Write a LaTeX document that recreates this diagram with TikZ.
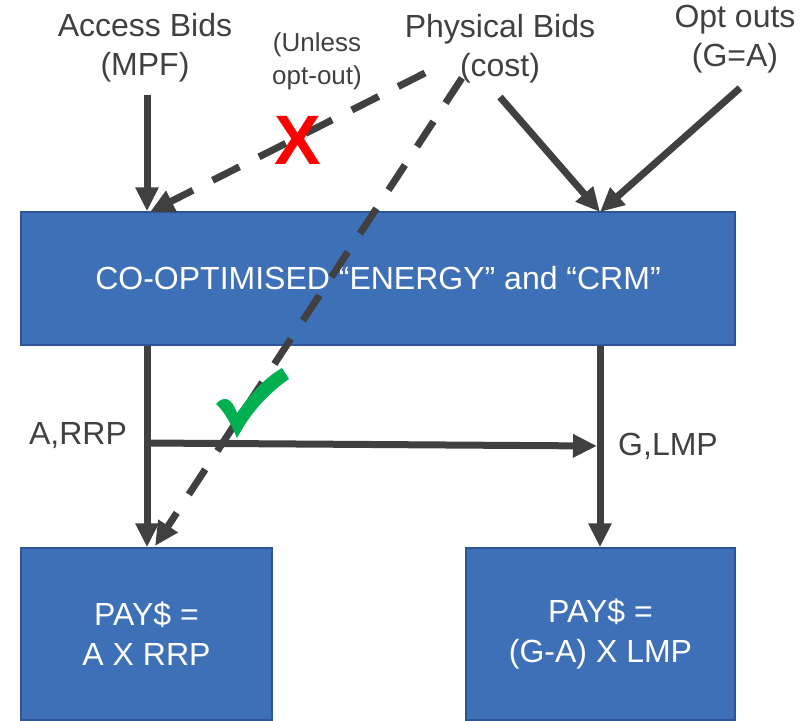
\documentclass[tikz,border=0pt]{standalone}
\usepackage{fontspec}
\setmainfont{Liberation Sans}
\usetikzlibrary{arrows.meta,calc}
\definecolor{boxblue}{RGB}{61,112,182}
\definecolor{boxedge}{RGB}{47,85,151}
\definecolor{inkgrey}{RGB}{64,64,64}
\definecolor{crossred}{RGB}{255,0,0}
\definecolor{tickgreen}{RGB}{0,176,80}

\begin{document}
\begin{tikzpicture}[x=1pt, y=-1pt,
    bidtext/.style={text=inkgrey, align=center, inner sep=0pt, font=\fontsize{32}{39}\selectfont},
    paybox/.style={draw=boxedge, line width=1.5pt, fill=boxblue, text=white, align=center,
        inner sep=0pt, font=\fontsize{32}{40}\selectfont},
    flow/.style={draw=inkgrey, line width=7pt, -{Triangle[length=24pt,width=22pt]}},
    maybeflow/.style={flow, dash pattern=on 30pt off 22pt}
]

    \useasboundingbox (0,0) rectangle (808,720);

    % 1. 三个蓝色方框
    \node (coopt) at (378,278.5) [paybox, minimum width=714pt, minimum height=133pt]
        {CO-OPTIMISED “ENERGY” and “CRM”};
    \node (lbox) at (146.5,634) [paybox, minimum width=251pt, minimum height=172pt]
        {PAY\$ =\\A X RRP};
    \node (rbox) at (600.5,634) [paybox, minimum width=269pt, minimum height=172pt]
        {PAY\$ =\\(G-A) X LMP};

    % 2. 顶部的文字
    \node (access) at (145,48) [bidtext] {Access Bids\\(MPF)};
    \node (unless) at (317,61) [bidtext, font=\fontsize{26}{33}\selectfont] {(Unless\\opt-out)};
    \node (physical) at (500,49) [bidtext] {Physical Bids\\(cost)};
    \node (optouts) at (735,39) [bidtext] {Opt outs\\(G=A)};

    % 端点
    \coordinate (accTail) at (147,95);
    \coordinate (physTail) at (500,97);
    \coordinate (optTail) at (740,88);
    \coordinate (dashTailA) at (425,73);
    \coordinate (dashTailB) at (462,78);
    \coordinate (split) at (147,443);
    \coordinate (join) at (597,446);

    % 3. 输入箭头
    \draw[flow] (accTail) -- (accTail |- coopt.north);
    \draw[maybeflow] (dashTailA) -- (150,212);
    \draw[flow] (physTail) -- (600,212);
    \draw[flow] (optTail) -- (600,212);

    % 4. 输出箭头
    \draw[flow] (coopt.south -| split) -- (split |- lbox.north);
    \draw[flow] (coopt.south -| join) ++(3,0) coordinate (rdown) -- (rdown |- rbox.north);
    \draw[flow] (split) -- (join);
    \draw[maybeflow] (dashTailB) -- (155,546);

    % 5. 价格标签
    \node (arrp) at (78,436) [bidtext] {A,RRP};
    \node (glmp) at (668,446) [bidtext] {G,LMP};

    % 6. 红叉与绿勾
    \node (nomark) at (298,140) [text=crossred, font=\fontsize{70}{70}\selectfont\bfseries] {X};
    \fill[tickgreen] (216,404) .. controls (224,395) and (232,398) .. (237,413)
        .. controls (252,392) and (266,377) .. (282,368) -- (289,379)
        .. controls (266,395) and (250,414) .. (237,438)
        .. controls (231,424) and (225,412) .. (216,404) -- cycle;

\end{tikzpicture}
\end{document}
